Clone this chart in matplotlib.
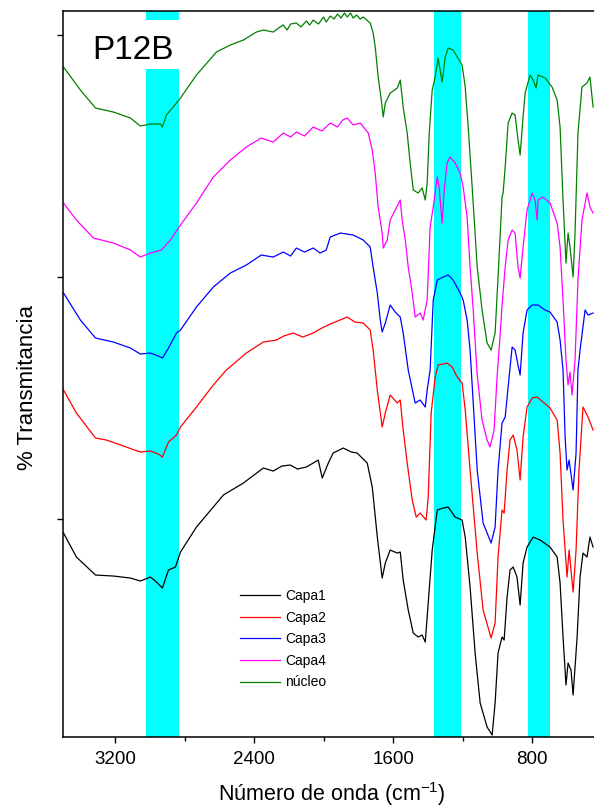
import matplotlib
matplotlib.use("Agg")
import matplotlib.pyplot as plt

plt.rcParams["font.family"] = ["Liberation Sans", "DejaVu Sans"]
plt.rcParams["mathtext.fontset"] = "custom"
plt.rcParams["mathtext.rm"] = "Liberation Sans"
plt.rcParams["axes.unicode_minus"] = False

# bandas resaltadas (cm-1)
bandas = [(3020, 2830), (1362, 1208), (823, 695)]

# espectros (número de onda, % T desplazado)
wn_nucleo = [3497, 3400, 3313, 3210, 3112, 3055, 2997, 2939, 2928, 2905, 2847, 2824, 2732, 2617,
             2537, 2462, 2387, 2347, 2290, 2260, 2232, 2210, 2190, 2157, 2130, 2100, 2080, 2060,
             2030, 2000, 1985, 1962, 1940, 1920, 1900, 1880, 1864, 1845, 1830, 1810, 1790, 1772,
             1732, 1715, 1703, 1686, 1668, 1657, 1645, 1617, 1576, 1559, 1548, 1542, 1519, 1502,
             1484, 1456, 1433, 1415, 1404, 1392, 1375, 1358, 1341, 1318, 1300, 1283, 1255, 1203,
             1185, 1168, 1145, 1116, 1088, 1059, 1036, 1013, 996, 973, 967, 955, 938, 915, 898,
             881, 869, 852, 840, 812, 794, 777, 766, 725, 685, 656, 639, 622, 605, 593, 582, 564,
             553, 536, 513, 484, 467, 449]
t_nucleo = [670, 647, 629, 625, 619, 611, 613, 613, 610, 622, 634, 639, 662, 685,
            692, 697, 705, 707, 705, 709, 712, 707, 713, 714, 710, 716, 712, 717,
            713, 720, 715, 721, 718, 723, 719, 724, 720, 724, 719, 722, 718, 720,
            714, 704, 690, 660, 637, 620, 634, 644, 649, 657, 640, 630, 604, 574,
            547, 544, 549, 537, 554, 604, 647, 660, 679, 655, 680, 689, 687, 672,
            650, 610, 550, 470, 427, 394, 387, 404, 460, 540, 544, 570, 614, 624, 622,
            597, 582, 620, 644, 662, 657, 649, 662, 659, 650, 637, 610, 537, 474, 504, 490, 460,
            504, 604, 650, 654, 660, 630]

wn_capa4 = [3497, 3423, 3325, 3210, 3112, 3055, 2997, 2934, 2882, 2824, 2732, 2635, 2537, 2445,
            2359, 2290, 2232, 2190, 2157, 2110, 2060, 2010, 1962, 1920, 1890, 1864, 1830, 1789,
            1743, 1720, 1703, 1686, 1663, 1657, 1634, 1617, 1588, 1559, 1548, 1530, 1513, 1490,
            1473, 1444, 1427, 1404, 1387, 1369, 1346, 1335, 1318, 1306, 1289, 1272, 1243, 1214,
            1197, 1174, 1157, 1139, 1116, 1088, 1059, 1042, 1019, 1001, 984, 973, 955, 938, 915,
            898, 881, 869, 852, 829, 800, 783, 771, 766, 737, 697, 656, 639, 622, 605, 593, 582,
            570, 553, 536, 513, 484, 467, 449]
t_capa4 = [534, 517, 499, 494, 487, 480, 484, 487, 497, 512, 534, 560, 577, 590,
           599, 595, 604, 600, 605, 601, 610, 606, 614, 610, 617, 619, 612, 614,
           604, 587, 564, 530, 504, 489, 497, 517, 527, 537, 517, 497, 470, 444,
           420, 424, 417, 437, 510, 530, 560, 550, 514, 547, 574, 580, 574, 564,
           550, 520, 470, 427, 362, 317, 297, 290, 307, 362, 402, 432, 470, 497, 507,
           504, 470, 459, 490, 527, 544, 537, 517, 537, 540, 534, 514, 490, 437, 377, 352, 365,
           342, 377, 457, 517, 544, 530, 524]

wn_capa3 = [3497, 3400, 3313, 3210, 3112, 3055, 2997, 2951, 2928, 2893, 2847, 2824, 2732, 2635,
            2537, 2445, 2359, 2290, 2232, 2190, 2157, 2110, 2060, 2020, 1985, 1962, 1904, 1830,
            1772, 1732, 1715, 1691, 1674, 1663, 1645, 1617, 1588, 1559, 1542, 1513, 1473, 1444,
            1415, 1404, 1387, 1369, 1346, 1312, 1283, 1255, 1214, 1197, 1174, 1157, 1116, 1082,
            1036, 1013, 996, 973, 955, 938, 915, 898, 881, 869, 852, 829, 800, 766, 725, 697,
            656, 639, 622, 610, 599, 587, 564, 547, 536, 524, 495, 478, 449]
t_capa3 = [444, 417, 399, 395, 389, 383, 384, 381, 379, 389, 404, 407, 430, 450,
           464, 472, 482, 480, 485, 481, 489, 485, 489, 484, 487, 500, 504, 502,
           497, 490, 470, 444, 417, 405, 414, 432, 425, 420, 404, 367, 334, 337,
           330, 347, 367, 437, 457, 460, 462, 457, 444, 437, 417, 387, 267, 214,
           194, 210, 267, 314, 320, 350, 390, 387, 372, 362, 404, 427, 432, 432, 427, 425,
           415, 397, 367, 300, 267, 277, 247, 284, 367, 387, 427, 422, 424]

wn_capa2 = [3497, 3423, 3313, 3250, 3152, 3055, 2997, 2951, 2928, 2893, 2847, 2824, 2732, 2635,
            2560, 2445, 2347, 2272, 2230, 2175, 2120, 2060, 2010, 1962, 1920, 1864, 1820, 1772,
            1732, 1715, 1691, 1663, 1645, 1617, 1576, 1559, 1542, 1519, 1490, 1467, 1444, 1410,
            1398, 1381, 1358, 1341, 1289, 1260, 1231, 1203, 1185, 1157, 1116, 1082, 1036, 1013,
            996, 973, 961, 944, 927, 909, 887, 869, 852, 829, 800, 771, 737, 697, 656, 639, 622,
            599, 587, 564, 547, 530, 507, 478, 449]
t_capa2 = [347, 324, 299, 297, 291, 285, 286, 283, 280, 295, 302, 310, 330, 352,
           367, 384, 395, 397, 401, 404, 400, 404, 409, 413, 416, 420, 415, 414,
           407, 387, 347, 310, 324, 342, 334, 337, 307, 274, 237, 220, 224, 217,
           240, 324, 360, 372, 374, 370, 360, 354, 327, 267, 184, 127, 99, 114,
           180, 227, 224, 267, 297, 302, 287, 257, 300, 330, 339, 340, 335, 329, 317, 284, 217,
           160, 187, 145, 187, 267, 330, 320, 307]

wn_capa1 = [3497, 3423, 3313, 3210, 3112, 3055, 2997, 2962, 2928, 2893, 2853, 2824, 2732, 2577,
            2462, 2347, 2290, 2240, 2192, 2150, 2100, 2060, 2031, 2008, 1973, 1945, 1887, 1840,
            1807, 1749, 1720, 1691, 1663, 1645, 1617, 1576, 1559, 1542, 1513, 1484, 1456, 1433,
            1415, 1398, 1375, 1346, 1312, 1283, 1243, 1203, 1185, 1157, 1128, 1099, 1059, 1030,
            1013, 996, 973, 961, 944, 927, 909, 887, 869, 852, 829, 794, 754, 697, 656, 639, 622,
            605, 593, 576, 564, 541, 524, 507, 484, 467, 449]
t_capa1 = [204, 180, 162, 161, 159, 156, 160, 155, 149, 167, 170, 185, 210, 242,
           254, 269, 266, 271, 272, 268, 270, 274, 277, 259, 274, 284, 289, 285,
           284, 274, 250, 200, 159, 174, 187, 184, 185, 157, 127, 104, 100, 102,
           95, 134, 187, 227, 229, 230, 220, 217, 200, 150, 84, 34, 10, 2,
           34, 84, 100, 97, 140, 167, 170, 160, 132, 174, 190, 200, 197, 190, 180, 154, 100,
           52, 74, 67, 42, 100, 160, 184, 180, 200, 190]

series = [
    ("Capa1", wn_capa1, t_capa1, "black"),
    ("Capa2", wn_capa2, t_capa2, "#ff0000"),
    ("Capa3", wn_capa3, t_capa3, "#0000ff"),
    ("Capa4", wn_capa4, t_capa4, "#ff00ff"),
    ("núcleo", wn_nucleo, t_nucleo, "#008000"),
]

fig = plt.figure(figsize=(5.94, 8.11), dpi=100)
ax = fig.add_axes([0.1061, 0.0912, 0.9067, 0.8952])

# la primera banda se interrumpe detrás de la etiqueta P12B
hueco = (0.920, 0.988)
for i, (a, b) in enumerate(bandas):
    if i == 0:
        ax.axvspan(a, b, ymin=0, ymax=hueco[0], color="#00ffff", lw=0, zorder=0)
        ax.axvspan(a, b, ymin=hueco[1], ymax=1, color="#00ffff", lw=0, zorder=0)
    else:
        ax.axvspan(a, b, color="#00ffff", lw=0, zorder=0)

for nombre, x, y, c in series:
    ax.plot(x, y, color=c, lw=0.9, label=nombre, zorder=2)

ax.set_xlim(3500, 400)
ax.set_ylim(0, 726)
ax.set_xticks([3200, 2400, 1600, 800])
ax.set_xticks([2800, 2000, 1200], minor=True)
ax.set_yticks([218, 460, 702])
ax.set_yticklabels([])
ax.tick_params(axis="x", which="major", length=4, width=1, labelsize=13.5, pad=6)
ax.tick_params(axis="x", which="minor", length=3, width=1)
ax.tick_params(axis="y", length=4, width=1)
ax.spines["right"].set_visible(False)
for s in ["left", "top", "bottom"]:
    ax.spines[s].set_linewidth(1.1)

ax.set_xlabel("Número de onda (cm$^{-1}$)", fontsize=15.5)
ax.set_ylabel("% Transmitancia", fontsize=16)
ax.xaxis.set_label_coords(0.5, -0.060)
ax.yaxis.set_label_coords(-0.047, 0.481)

ax.text(0.054, 0.945, "P12B", transform=ax.transAxes, fontsize=24, va="center", ha="left",
        zorder=3)

leg = ax.legend(loc="upper left", bbox_to_anchor=(0.328, 0.204), frameon=False, fontsize=10,
                handlelength=2.9, handletextpad=0.35, labelspacing=0.55, borderpad=0,
                borderaxespad=0)

fig.savefig("out.png", dpi=100)
